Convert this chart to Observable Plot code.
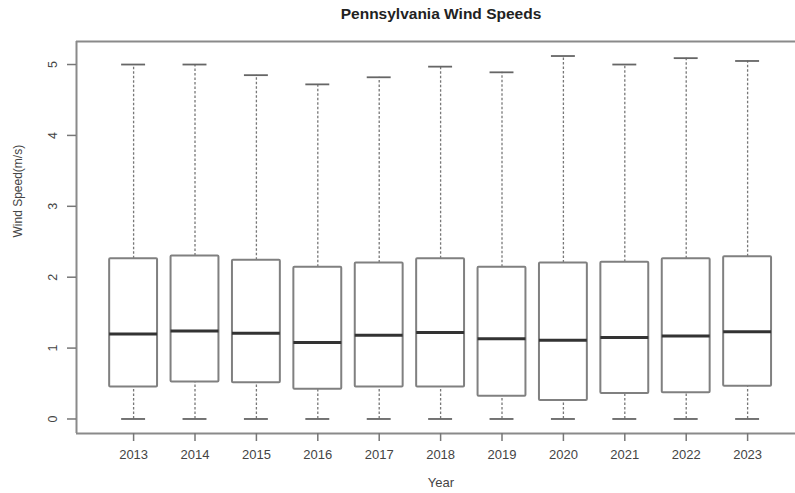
<!DOCTYPE html>
<html>
<head>
<meta charset="utf-8">
<script src="https://cdn.jsdelivr.net/npm/d3@7"></script>
<script src="https://cdn.jsdelivr.net/npm/@observablehq/plot@0.6"></script>
<style>
  html, body { margin: 0; padding: 0; background: #fff; overflow: hidden; }
  #chart svg { display: block; }
</style>
</head>
<body>
<div id="chart"></div>
<script>
// Yearly wind speed summaries (m/s): whisker ends, quartiles and median
const years  = [2013, 2014, 2015, 2016, 2017, 2018, 2019, 2020, 2021, 2022, 2023];
const lower  = [0, 0, 0, 0, 0, 0, 0, 0, 0, 0, 0];
const q1     = [0.45, 0.52, 0.51, 0.42, 0.45, 0.45, 0.32, 0.26, 0.36, 0.37, 0.46];
const median = [1.20, 1.24, 1.21, 1.08, 1.18, 1.22, 1.13, 1.11, 1.15, 1.17, 1.23];
const q3     = [2.26, 2.30, 2.24, 2.14, 2.20, 2.26, 2.14, 2.20, 2.21, 2.26, 2.29];
const upper  = [5.00, 5.00, 4.85, 4.72, 4.82, 4.97, 4.89, 5.12, 5.00, 5.09, 5.05];
const yTicks = [0, 1, 2, 3, 4, 5];

const rows = years.map((year, i) => ({
  year, lower: lower[i], q1: q1[i], median: median[i], q3: q3[i], upper: upper[i]
}));

// R-style padded domains
const xDomain = [2012.07, 2023.78];
const yDomain = [-0.2048, 5.3248];
const half = 0.39;   // half box width in year units
const cap = 0.195;   // half whisker cap width

const font = "'Liberation Sans', Arial, Helvetica, sans-serif";
const ink = "#444";

const chart = Plot.plot({
  width: 795,
  height: 493,
  marginTop: 41,
  marginBottom: 60,
  marginLeft: 76,
  marginRight: 0,
  style: { fontFamily: font, background: "#fff", overflow: "hidden" },
  x: { domain: xDomain },
  y: { domain: yDomain },
  marks: [
    // plot border (left, top, bottom)
    Plot.ruleY(yDomain, { stroke: "#8a8a8a", strokeWidth: 2 }),
    Plot.ruleX([xDomain[0]], { stroke: "#8a8a8a", strokeWidth: 2 }),

    // whiskers
    Plot.ruleX(rows, { x: "year", y1: "q3", y2: "upper", stroke: "#777", strokeWidth: 1.3, strokeDasharray: "2.5,2" }),
    Plot.ruleX(rows, { x: "year", y1: "lower", y2: "q1", stroke: "#777", strokeWidth: 1.3, strokeDasharray: "2.5,2" }),
    Plot.ruleY(rows, { y: "upper", x1: d => d.year - cap, x2: d => d.year + cap, stroke: "#666", strokeWidth: 1.8 }),
    Plot.ruleY(rows, { y: "lower", x1: d => d.year - cap, x2: d => d.year + cap, stroke: "#666", strokeWidth: 1.8 }),

    // boxes
    Plot.rect(rows, {
      x1: d => d.year - half, x2: d => d.year + half,
      y1: "q1", y2: "q3",
      fill: "#fff", stroke: "#808080", strokeWidth: 2, rx: 1
    }),
    // medians
    Plot.ruleY(rows, { y: "median", x1: d => d.year - half, x2: d => d.year + half, stroke: "#333", strokeWidth: 3 }),

    // axes
    Plot.axisX({ ticks: years, tickSize: 8, tickPadding: 8, tickFormat: d => String(d), label: null,
                 fontSize: 13, color: ink, stroke: "#777", strokeWidth: 1.5 }),
    Plot.axisY({ ticks: yTicks, tickSize: 9, tickFormat: () => "", label: null, stroke: "#777", strokeWidth: 1.5 }),
    Plot.text(yTicks, { y: d => d, frameAnchor: "left", dx: -24, rotate: -90, text: d => String(d),
                        textAnchor: "middle", lineAnchor: "middle", fontSize: 12.5, fill: ink }),

    // titles
    Plot.text(["Pennsylvania Wind Speeds"], { frameAnchor: "top", dx: 5, dy: -27, lineAnchor: "middle",
                                              fontSize: 15.5, fontWeight: "bold", fill: "#222" }),
    Plot.text(["Year"], { frameAnchor: "bottom", dx: 5, dy: 49, lineAnchor: "middle", fontSize: 13, fill: ink }),
    Plot.text(["Wind Speed(m/s)"], { frameAnchor: "left", dx: -58, rotate: -90, lineAnchor: "middle",
                                     fontSize: 12, fill: ink })
  ]
});

document.getElementById("chart").appendChild(chart);
</script>
</body>
</html>
